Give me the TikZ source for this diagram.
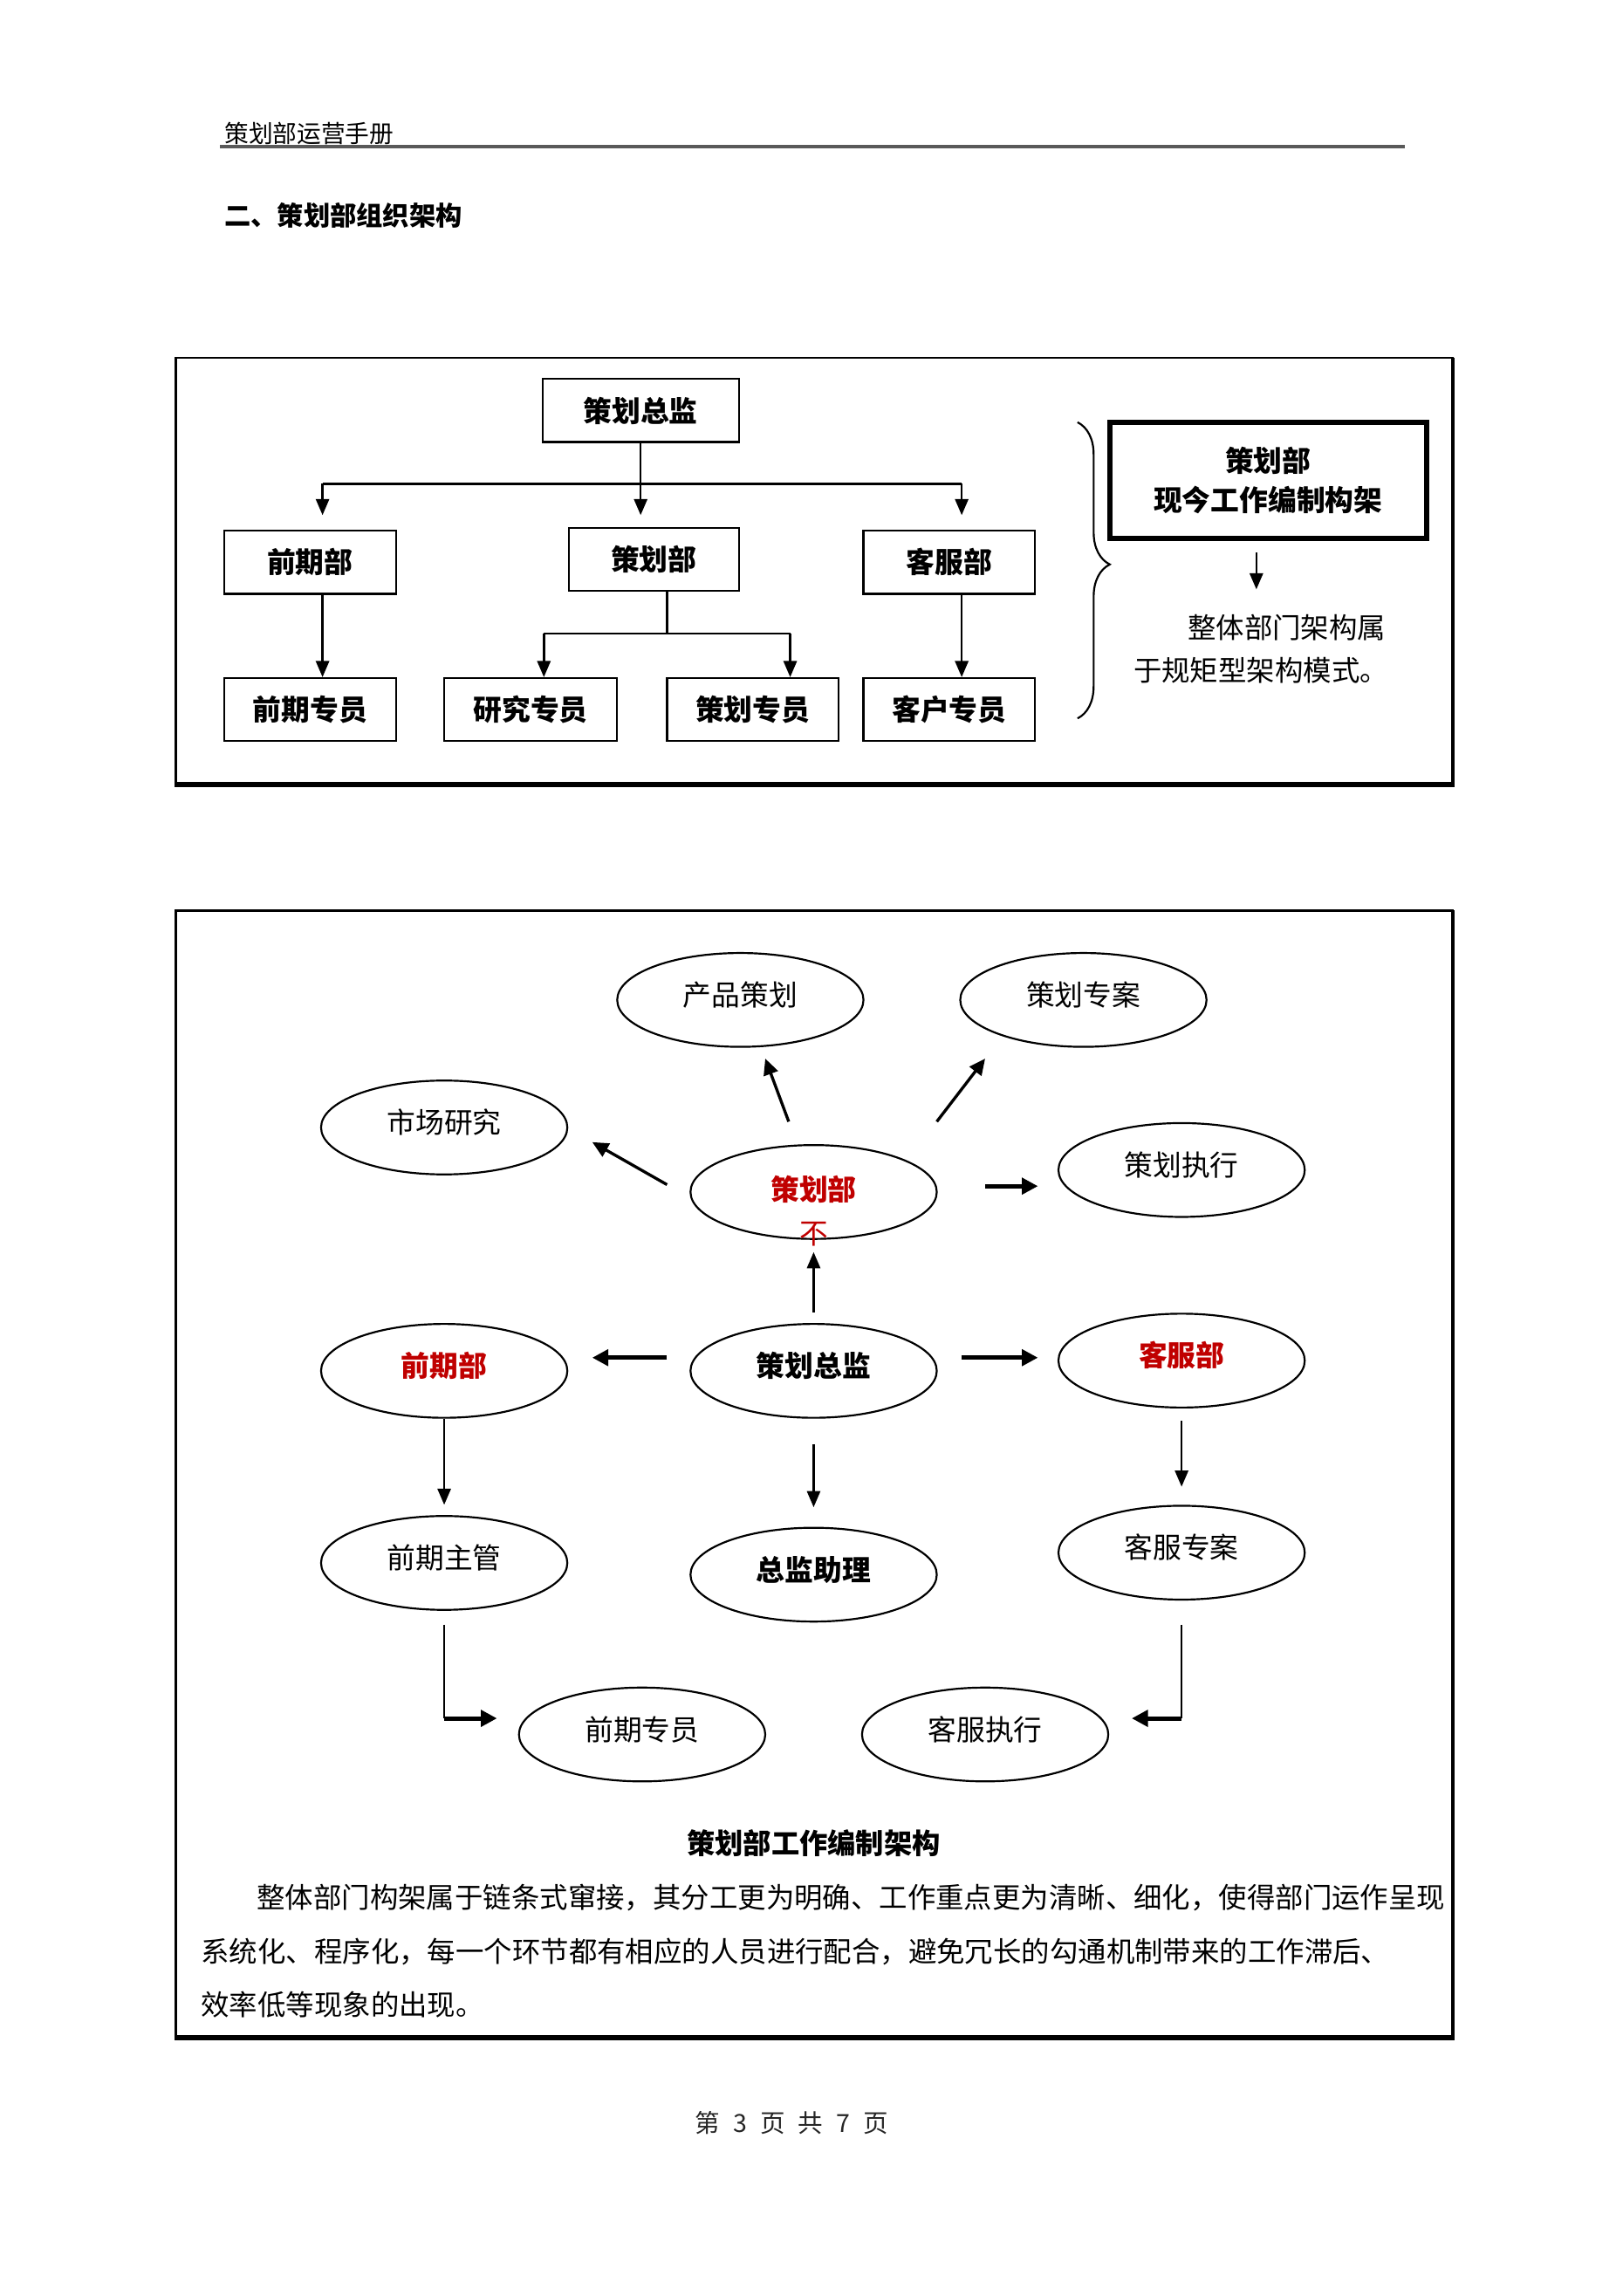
\documentclass[tikz,border=0pt]{standalone}
\usepackage{fontspec}
\setmainfont{Noto Sans CJK SC}
\usetikzlibrary{arrows.meta,shapes.geometric,decorations.pathreplacing,calc}
\definecolor{dred}{HTML}{C00000}
\newcommand{\fs}[1]{\fontsize{#1}{#1}\selectfont}
\begin{document}
\begin{tikzpicture}[x=1pt,y=-1pt,
  obox/.style={draw,line width=1.3pt,minimum width=117pt,minimum height=43pt,inner sep=0pt,font=\bfseries\fs{19.5}},
  eln/.style={ellipse,draw,line width=1.3pt,minimum width=168pt,minimum height=64pt,inner sep=0pt,font=\fs{19.5},text height=17pt,text depth=9pt},
  elb/.style={eln,font=\bfseries\fs{19.5}},
  elr/.style={eln,font=\bfseries\fs{19.5},text=dred},
  arr/.style={line width=1.5pt,-{Triangle[length=11pt,width=9pt]}},
  arrd/.style={line width=2pt,-{Triangle[length=11pt,width=10pt]}},
  arrt/.style={line width=3pt,-{Triangle[length=11pt,width=11pt]}},
  ln/.style={line width=1.5pt},
  txt/.style={inner sep=0pt,font=\fs{19.3}}]
\useasboundingbox[fill=white] (0,0) rectangle (1107,1566);

% header
\node[anchor=south west,inner sep=0pt,font=\fs{16.5}] (hdr) at (153,99) {策划部运营手册};
\draw[black!65,line width=1.8pt] (150,100) -- (958,100);
\node[anchor=west,inner sep=0pt,font=\bfseries\fs{18}] (ttl) at (153,147) {二、策划部组织架构};

% ---- box 1 ----
\draw[line width=1.6pt] (120,244) rectangle (991,536);
\draw[line width=3.2pt] (119.2,535) -- (992,535);
\draw[line width=2.2pt] (991,244) -- (991,536);

\node[obox,minimum width=134pt] (zj) at (437,280) {策划总监};
\node[obox] (qqb) at (211.5,383.5) {前期部};
\node[obox,minimum width=116pt] (chb) at (446,381.5) {策划部};
\node[obox] (kfb) at (647.5,383.5) {客服部};
\node[obox] (qqzy) at (211.5,484) {前期专员};
\node[obox,minimum width=118pt] (yjzy) at (362,484) {研究专员};
\node[obox] (chzy) at (513.5,484) {策划专员};
\node[obox] (khzy) at (647.5,484) {客户专员};

\coordinate (hl) at (220,330);
\coordinate (hr) at (656,330);
\draw[ln] (hl) -- (hr);
\draw[arr,shorten >=10pt] (zj.south) -- (zj.south |- qqb.north);
\draw[arr,shorten >=10pt] (hl) -- (hl |- qqb.north);
\draw[arr,shorten >=10pt] (hr) -- (hr |- kfb.north);
\draw[arr] (qqb.south -| hl) -- (qqzy.north -| hl);
\coordinate (cb) at (455,432);
\coordinate (cbl) at (371,432);
\coordinate (cbr) at (539,432);
\draw[ln] (chb.south -| cb) -- (cb);
\draw[ln] (cbl) -- (cbr);
\draw[arr] (cbl) -- (yjzy.north -| cbl);
\draw[arr] (cbr) -- (chzy.north -| cbr);
\draw[arr] (kfb.south -| hr) -- (khzy.north -| hr);

\node[draw,line width=3.6pt,minimum width=216pt,minimum height=79pt,inner sep=0pt,align=center,
      font=\bfseries\fontsize{19.5}{27}\selectfont] (xj) at (865,327.5) {策划部\\现今工作编制构架};
\coordinate (xa) at (857,402);
\draw[arr,shorten <=8pt] (xj.south -| xa) -- (xa);
\node[txt,anchor=west] (t1) at (810,428) {整体部门架构属};
\node[txt,anchor=west] (t2) at (773,457) {于规矩型架构模式。};
\coordinate (bt) at (735,288);
\coordinate (bb) at (735,490);
\draw[line width=1.3pt,decorate,decoration={brace,amplitude=22pt,aspect=0.48}] (bt) -- (bb);

% ---- box 2 ----
\draw[line width=1.6pt] (120,621) rectangle (991,1391);
\draw[line width=3.4pt] (119.2,1390) -- (992,1390);
\draw[line width=2.2pt] (991,621) -- (991,1391);

\node[eln] (cpch) at (505,682) {产品策划};
\node[eln] (chza) at (739,682) {策划专案};
\node[eln] (scyj) at (303,769) {市场研究};
\node[eln] (chzx) at (806,798) {策划执行};
\node[eln] (chbe) at (555,813) {};
\node[inner sep=0pt,font=\bfseries\fs{19.5},text=dred] (chbt) at (555,811) {策划部};
\node[inner sep=0pt,font=\fs{19.5},text=dred] (chbn) at (555,842) {不};
\node[elr] (qqbe) at (303,935) {前期部};
\node[elb] (zje) at (555,935) {策划总监};
\node[elr] (kfbe) at (806,928) {客服部};
\node[eln] (qqzg) at (303,1066) {前期主管};
\node[elb] (zjzl) at (555,1074) {总监助理};
\node[eln] (kfza) at (806,1059) {客服专案};
\node[eln] (qqzye) at (438,1183) {前期专员};
\node[eln] (kfzx) at (672,1183) {客服执行};

\coordinate (a1s) at (538,765); \coordinate (a1e) at (522,722);
\coordinate (a2s) at (639,765); \coordinate (a2e) at (672,722);
\coordinate (a3s) at (455,808); \coordinate (a3e) at (404,779);
\coordinate (a4s) at (672,809); \coordinate (a4e) at (708,809);
\coordinate (a5s) at (555,895); \coordinate (a5e) at (555,854);
\coordinate (a6s) at (455,926); \coordinate (a6e) at (404,926);
\coordinate (a7s) at (656,926); \coordinate (a7e) at (708,926);
\coordinate (a8s) at (555,985); \coordinate (a8e) at (555,1028);
\coordinate (a10s) at (806,969); \coordinate (a10e) at (806,1014);
\coordinate (a11s) at (303,1108); \coordinate (a11m) at (303,1172); \coordinate (a11e) at (339,1172);
\coordinate (a12s) at (806,1108); \coordinate (a12m) at (806,1172); \coordinate (a12e) at (772,1172);

\draw[arrd] (a1s) -- (a1e);
\draw[arrd] (a2s) -- (a2e);
\draw[arrd] (a3s) -- (a3e);
\draw[arrt] (a4s) -- (a4e);
\draw[arr] (a5s) -- (a5e);
\draw[arrt] (a6s) -- (a6e);
\draw[arrt] (a7s) -- (a7e);
\draw[arr] (a8s) -- (a8e);
\draw[arr,shorten >=7pt] (qqbe.south) -- (qqzg.north);
\draw[arr] (a10s) -- (a10e);
\draw[ln] (a11s) -- (a11m);
\draw[arrt] (a11m) -- (a11e);
\draw[ln] (a12s) -- (a12m);
\draw[arrt] (a12m) -- (a12e);

\node[inner sep=0pt,font=\bfseries\fs{19.2}] (cap) at (555,1257) {策划部工作编制架构};
\node[txt,anchor=west] (p1) at (175,1294) {整体部门构架属于链条式窜接，其分工更为明确、工作重点更为清晰、细化，使得部门运作呈现};
\node[txt,anchor=west] (p2) at (137,1331) {系统化、程序化，每一个环节都有相应的人员进行配合，避免冗长的勾通机制带来的工作滞后、};
\node[txt,anchor=west] (p3) at (137,1367) {效率低等现象的出现。};

\node[inner sep=0pt,font=\fs{17},text=black!85] (ftr) at (540,1448) {第\hspace{9pt}3\hspace{9pt}页\hspace{9pt}共\hspace{9pt}7\hspace{9pt}页};
\end{tikzpicture}
\end{document}
